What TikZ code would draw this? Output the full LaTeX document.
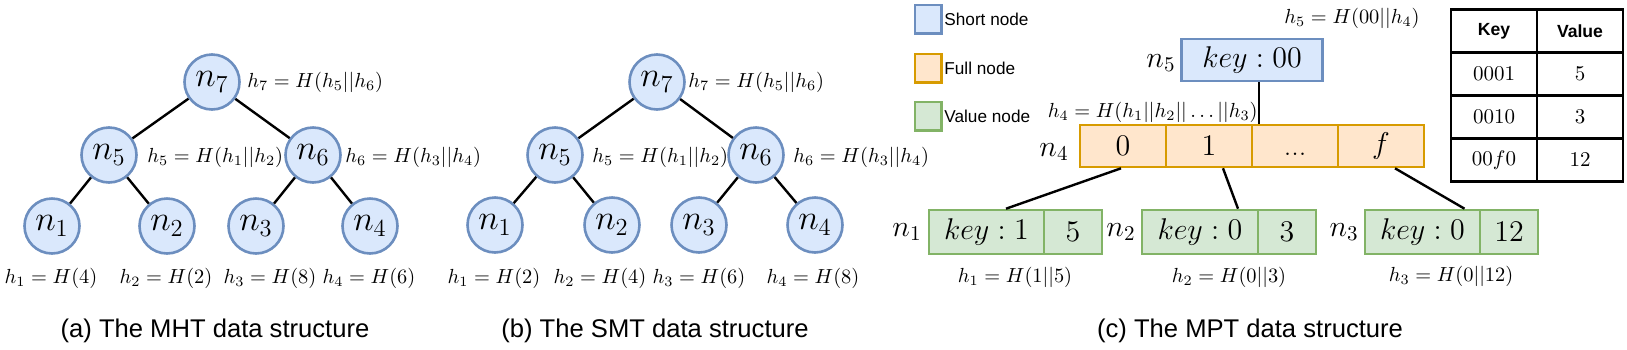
\RequirePackage{fix-cm}
\documentclass[tikz,border=0pt]{standalone}
\usepackage{amsmath, amssymb}
\usepackage{fontspec}
\newfontfamily\capfont{Liberation Sans}
\usepackage{tikz}
\definecolor{nodeBlue}{HTML}{DAE8FC}
\definecolor{lineBlue}{HTML}{6C8EBF}
\definecolor{fullFill}{HTML}{FFE6CC}
\definecolor{fullLine}{HTML}{D79B00}
\definecolor{valFill}{HTML}{D5E8D4}
\definecolor{valLine}{HTML}{82B366}

\begin{document}
\begin{tikzpicture}[x=0.5pt, y=-0.5pt,
  tnode/.style={circle, draw=lineBlue, fill=nodeBlue, line width=1.3pt, minimum size=27.5pt, inner sep=0pt, font=\fontsize{17.5}{20}\selectfont},
  edge/.style={line width=1.2pt},
  hlab/.style={inner sep=0pt, font=\fontsize{10.2}{12}\selectfont},
  nlab/.style={inner sep=0pt, font=\fontsize{15}{18}\selectfont},
  cellbox/.style={draw, line width=1.3pt, inner sep=0pt, minimum height=21pt, font=\fontsize{15}{18}\selectfont},
  shortbox/.style={cellbox, draw=lineBlue, fill=nodeBlue},
  fullbox/.style={cellbox, draw=fullLine, fill=fullFill, minimum width=43pt},
  valbox/.style={cellbox, draw=valLine, fill=valFill, minimum height=22pt},
  tabcell/.style={draw, line width=1.4pt, minimum width=43pt, minimum height=21.5pt, inner sep=0pt, font=\fontsize{10.5}{12}\selectfont},
  tabhead/.style={tabcell, font=\capfont\bfseries\fontsize{8.8}{10}\selectfont},
  legbox/.style={draw, line width=1.3pt, minimum width=13.2pt, minimum height=14.2pt, inner sep=0pt},
  legtext/.style={anchor=west, inner sep=0pt, font=\capfont\fontsize{8.6}{10}\selectfont},
  caption/.style={inner sep=0pt, font=\capfont\fontsize{12.8}{15}\selectfont}
]
\useasboundingbox (0,0) rectangle (1627,349);

% (a) MHT
\node[tnode] (a7) at (212,82) {$n_7$};
\node[tnode] (a5) at (109,155) {$n_5$};
\node[tnode] (a6) at (313,155) {$n_6$};
\node[tnode] (a1) at (52,226) {$n_1$};
\node[tnode] (a2) at (167,226) {$n_2$};
\node[tnode] (a3) at (256,226) {$n_3$};
\node[tnode] (a4) at (370,226) {$n_4$};
\draw[edge] (a7) -- (a5);
\draw[edge] (a7) -- (a6);
\draw[edge] (a5) -- (a1);
\draw[edge] (a5) -- (a2);
\draw[edge] (a6) -- (a3);
\draw[edge] (a6) -- (a4);
\node[hlab, anchor=west] (ah7) at (247,82) {$h_7 = H(h_5||h_6)$};
\node[hlab, anchor=west] (ah5) at (147,157) {$h_5 = H(h_1||h_2)$};
\node[hlab, anchor=west] (ah6) at (345,157) {$h_6 = H(h_3||h_4)$};
\node[hlab] (ah1) at (51,278) {$h_1 = H(4)$};
\node[hlab] (ah2) at (166,278) {$h_2 = H(2)$};
\node[hlab] (ah3) at (270,278) {$h_3 = H(8)$};
\node[hlab] (ah4) at (369,278) {$h_4 = H(6)$};

% (b) SMT
\node[tnode] (b7) at (657,82) {$n_7$};
\node[tnode] (b5) at (555,155) {$n_5$};
\node[tnode] (b6) at (756,155) {$n_6$};
\node[tnode] (b1) at (495,225) {$n_1$};
\node[tnode] (b2) at (612,225) {$n_2$};
\node[tnode] (b3) at (699,225) {$n_3$};
\node[tnode] (b4) at (815,225) {$n_4$};
\draw[edge] (b7) -- (b5);
\draw[edge] (b7) -- (b6);
\draw[edge] (b5) -- (b1);
\draw[edge] (b5) -- (b2);
\draw[edge] (b6) -- (b3);
\draw[edge] (b6) -- (b4);
\node[hlab, anchor=west] (bh7) at (688,82) {$h_7 = H(h_5||h_6)$};
\node[hlab, anchor=west] (bh5) at (592,157) {$h_5 = H(h_1||h_2)$};
\node[hlab, anchor=west] (bh6) at (793,157) {$h_6 = H(h_3||h_4)$};
\node[hlab] (bh1) at (494,278) {$h_1 = H(2)$};
\node[hlab] (bh2) at (600,278) {$h_2 = H(4)$};
\node[hlab] (bh3) at (699,278) {$h_3 = H(6)$};
\node[hlab] (bh4) at (813,278) {$h_4 = H(8)$};

% (c) MPT: legend
\node[legbox, draw=lineBlue, fill=nodeBlue] (gs) at (928,19) {};
\node[legbox, draw=fullLine, fill=fullFill] (gf) at (928,68) {};
\node[legbox, draw=valLine, fill=valFill] (gv) at (928,116) {};
\node[legtext] (gst) at (944,19) {Short node};
\node[legtext] (gft) at (944,68) {Full node};
\node[legtext] (gvt) at (944,116) {Value node};

% short node and full node
\node[shortbox, minimum width=70.5pt] (s5) at (1252,60) {$key:00$};
\node[nlab] (s5l) at (1161,63) {$n_5$};
\node[hlab] (s5h) at (1352,18) {$h_5 = H(00||h_4)$};
\node[fullbox] (f0) at (1123,146) {$0$};
\node[fullbox] (f1) at (1209,146) {$1$};
\node[fullbox] (fd) at (1295,146) {...\vphantom{1}};
\node[fullbox] (ff) at (1381,146) {$f$};
\node[nlab] (f4l) at (1054,152) {$n_4$};
\node[hlab, anchor=east] (f4h) at (1258,112) {$h_4 = H(h_1||h_2||\ldots||h_3)$};
\draw[edge] ([xshift=3.5pt]s5.south) -- ([xshift=3.5pt]s5.south |- fd.north);

% value nodes
\node[valbox, minimum width=57.5pt] (v1k) at (986.5,232) {$key:1$};
\node[valbox, minimum width=29pt] (v1v) at (1073,232) {$5$};
\node[valbox, minimum width=58pt] (v2k) at (1200,232) {$key:0$};
\node[valbox, minimum width=29pt] (v2v) at (1287,232) {$3$};
\node[valbox, minimum width=57.5pt] (v3k) at (1422.5,232) {$key:0$};
\node[valbox, minimum width=29pt] (v3v) at (1509,232) {$12$};
\node[nlab] (v1l) at (907,232) {$n_1$};
\node[nlab] (v2l) at (1121,232) {$n_2$};
\node[nlab] (v3l) at (1344,232) {$n_3$};
\node[hlab] (v1h) at (1015,277) {$h_1 = H(1||5)$};
\node[hlab] (v2h) at (1229,277) {$h_2 = H(0||3)$};
\node[hlab] (v3h) at (1451,276) {$h_3 = H(0||12)$};
\draw[edge] ([xshift=-1pt]f0.south) -- ([xshift=9.75pt]v1k.north);
\draw[edge] ([xshift=7pt]f1.south) -- ([xshift=19pt]v2k.north);
\draw[edge] ([xshift=7pt]ff.south) -- ([xshift=21pt]v3k.north);

% key/value table
\node[tabhead] (t11) at (1494,31) {Key};
\node[tabhead] (t12) at (1580,31) {Value};
\node[tabcell] (t21) at (1494,74) {$0001$};
\node[tabcell] (t22) at (1580,74) {$5$};
\node[tabcell] (t31) at (1494,117) {$0010$};
\node[tabcell] (t32) at (1580,117) {$3$};
\node[tabcell] (t41) at (1494,160) {$00f0$};
\node[tabcell] (t42) at (1580,160) {$12$};

% captions
\node[caption] (capa) at (215,331) {(a) The MHT data structure};
\node[caption] (capb) at (655,331) {(b) The SMT data structure};
\node[caption] (capc) at (1250,331) {(c) The MPT data structure};
\end{tikzpicture}
\end{document}
